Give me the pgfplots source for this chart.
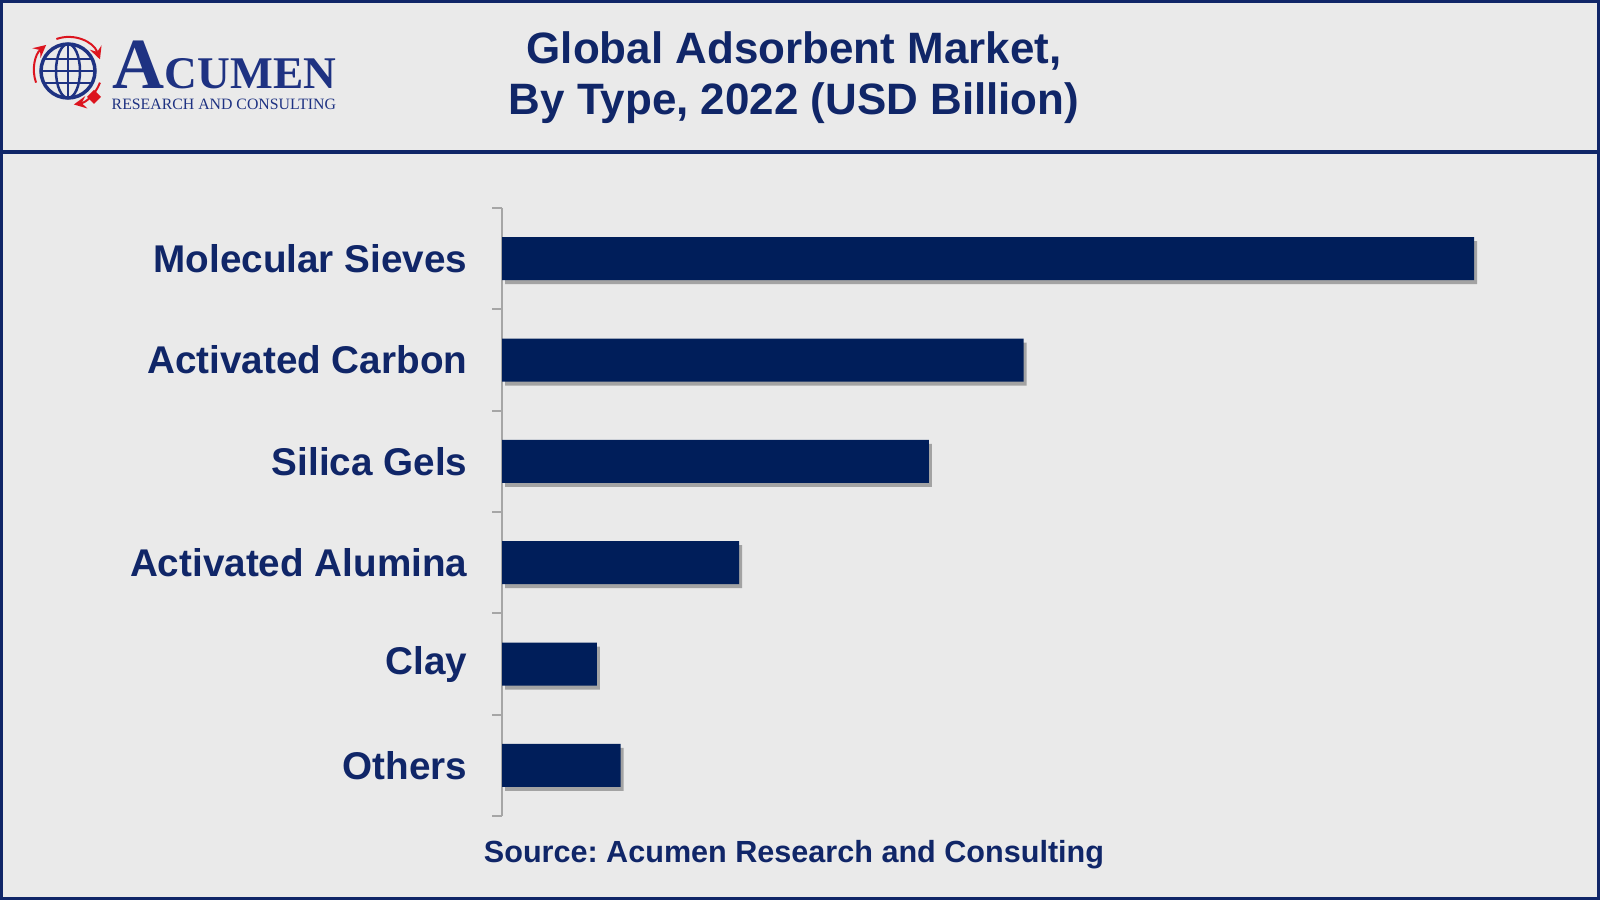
\documentclass[border=0pt]{standalone}
\usepackage{pgfplots}
\pgfplotsset{compat=1.18}
\usepackage{fontspec}
\setmainfont{Liberation Sans}
\newfontfamily\seriffont{Liberation Serif}
\usetikzlibrary{shadows}
\definecolor{bg}{RGB}{234,234,234}
\definecolor{navy}{RGB}{0,30,90}
\definecolor{txtnavy}{RGB}{16,38,104}
\definecolor{logoblue}{RGB}{30,50,130}
\definecolor{logored}{RGB}{220,20,30}
\frenchspacing
\begin{document}
\begin{tikzpicture}
\useasboundingbox (0,0) rectangle (16,9);
\fill[bg] (0,0) rectangle (16,9);
\draw[txtnavy, line width=0.03cm] (0.015,0.015) rectangle (15.985,8.985);
\draw[txtnavy, line width=0.045cm] (0,7.48) -- (16,7.48);
% logo
\begin{scope}[shift={(0.68,8.29)}]
\draw[logoblue, line width=0.035cm] (0,0) circle (0.27);
\draw[logoblue, line width=0.025cm] (0,0) ellipse (0.12 and 0.27);
\draw[logoblue, line width=0.025cm] (0,-0.27) -- (0,0.27);
\draw[logoblue, line width=0.025cm] (-0.27,0) -- (0.27,0);
\draw[logoblue, line width=0.025cm] (-0.24,0.12) -- (0.24,0.12);
\draw[logoblue, line width=0.025cm] (-0.24,-0.12) -- (0.24,-0.12);
\draw[logored, line width=0.02cm, -stealth] (110:0.34) arc (110:20:0.34);
\draw[logored, line width=0.02cm, -stealth] (-20:0.34) arc (-20:-80:0.34);
\draw[logored, line width=0.02cm, -stealth] (200:0.34) arc (200:130:0.34);
\fill[logored] (0.26,-0.19) -- (0.33,-0.26) -- (0.26,-0.33) -- (0.19,-0.26) -- cycle;
\end{scope}
\node[anchor=base west, inner sep=0pt, text depth=0pt, text=logoblue] at (1.12,8.11) {\seriffont\bfseries\fontsize{20.5}{20.5}\selectfont A\fontsize{12.9}{12.9}\selectfont CUMEN};
\node[anchor=base west, inner sep=0pt, text height=1.2mm, text=logoblue] at (1.11,7.90) {\seriffont\fontsize{4.5}{4.5}\selectfont RESEARCH AND CONSULTING};
% title
\node[align=center, text=txtnavy, font=\bfseries\fontsize{12.5}{14.5}\selectfont, inner sep=0pt] at (7.94,8.22) {Global Adsorbent Market,\\By Type, 2022 (USD Billion)};
% source
\node[text=txtnavy, font=\bfseries\fontsize{8.7}{10}\selectfont, inner sep=0pt] at (7.94,0.45) {Source: Acumen Research and Consulting};
\begin{axis}[
  at={(5.02cm,0.84cm)}, anchor=south west,
  width=10cm, height=6.08cm, scale only axis,
  xbar, bar width=0.43cm,
  xmin=0, xmax=2.109, ymin=-0.5, ymax=5.5, y dir=reverse,
  axis lines*=left,
  x axis line style={draw=none},
  y axis line style={draw=black!35, line width=0.6pt},
  xtick=\empty,
  ytick={0,1,2,3,4,5},
  yticklabels={Molecular Sieves,Activated Carbon,Silica Gels,Activated Alumina,Clay,Others},
  major tick length=0pt,
  y tick label style={anchor=east, inner sep=0pt, text=txtnavy, font=\bfseries\fontsize{11}{13}\selectfont, xshift=-0.34cm},
  extra y ticks={-0.5,0.5,1.5,2.5,3.5,4.5,5.5},
  extra y tick labels={},
  extra y tick style={major tick length=0.1cm, tick align=outside, tick style={draw=black!35, line width=0.6pt}},
  ytick pos=left,
  clip=false,
]
\addplot[fill=navy, draw=none, drop shadow={shadow xshift=0.03cm, shadow yshift=-0.04cm, opacity=0.3, fill=black}] coordinates {(2.05,0) (1.10,1) (0.90,2) (0.50,3) (0.20,4) (0.25,5)};
\end{axis}
\end{tikzpicture}
\end{document}
